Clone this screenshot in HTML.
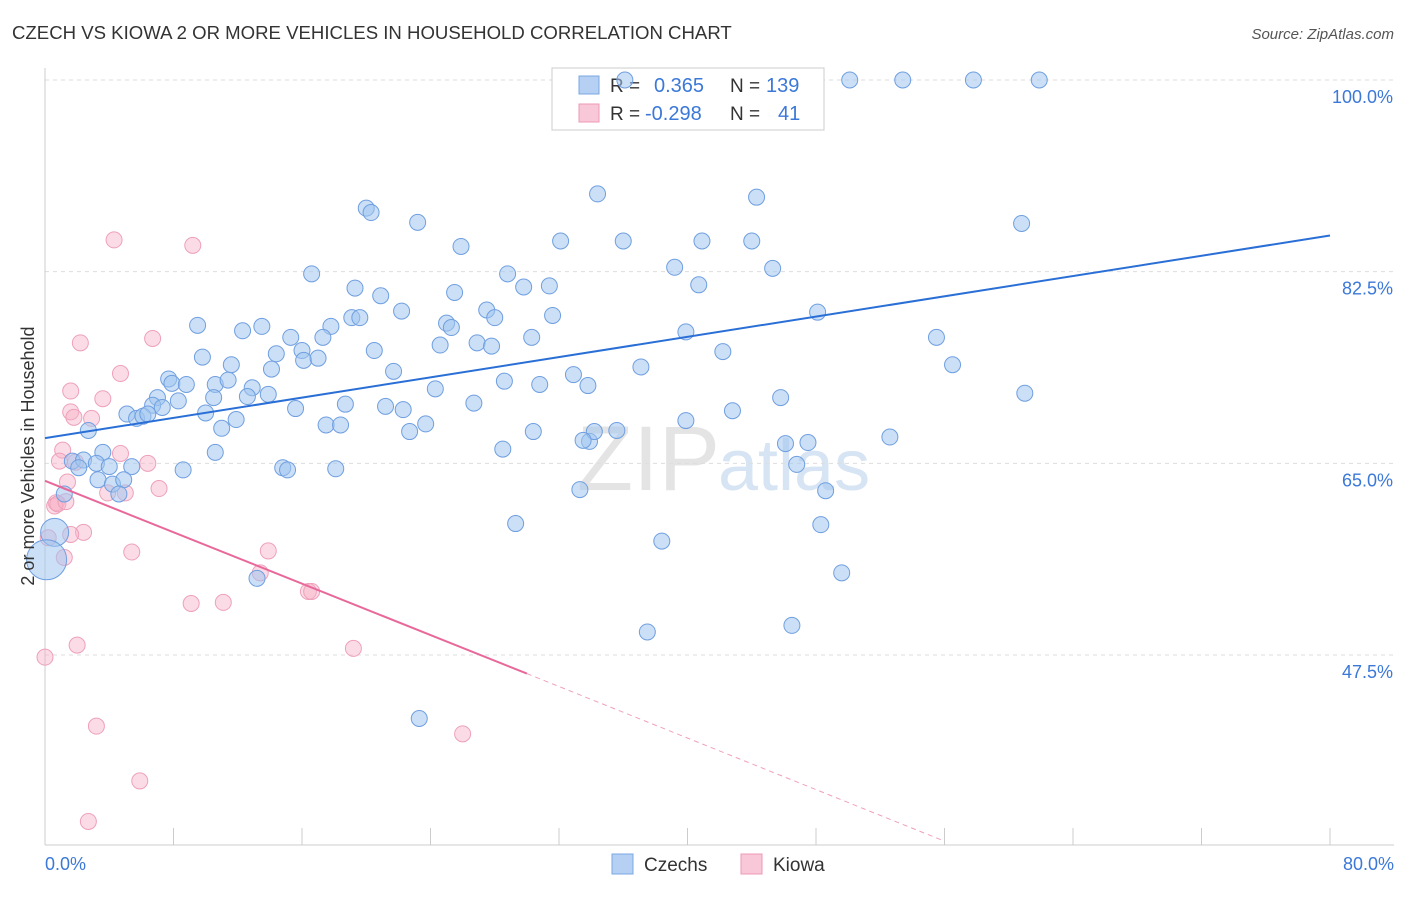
<!DOCTYPE html>
<html><head><meta charset="utf-8"><style>
body{margin:0;background:#fff;font-family:"Liberation Sans",sans-serif;}
svg text{font-family:"Liberation Sans",sans-serif;}
</style></head><body>
<svg id="chart" width="1406" height="892" xmlns="http://www.w3.org/2000/svg">
<text x="12" y="39" font-size="18.6" fill="#333">CZECH VS KIOWA 2 OR MORE VEHICLES IN HOUSEHOLD CORRELATION CHART</text>
<text x="1394" y="39" font-size="15" fill="#555" font-style="italic" text-anchor="end">Source: ZipAtlas.com</text>
<text x="720" y="490" font-size="92" fill="#e4e4e4" text-anchor="end" font-family="Liberation Serif">ZIP</text>
<text x="718" y="490" font-size="72" fill="#d6e4f4">atlas</text>
<g id="grid"></g>
<line x1="45" y1="68" x2="45" y2="845" stroke="#ccc"/>
<line x1="45" y1="845" x2="1394" y2="845" stroke="#ccc"/>
<g id="xticks"></g>
<g>
<rect x="552" y="68" width="272" height="62" fill="#fff" stroke="#ccc"/>
<rect x="579" y="76" width="20" height="18" fill="#b5d0f2" stroke="#7aa7e3"/>
<rect x="579" y="104" width="20" height="18" fill="#f9c8d8" stroke="#ee9ab5"/>
<text x="610" y="92" font-size="19" fill="#333">R =</text>
<text x="654" y="92" font-size="20" fill="#3b78d8">0.365</text>
<text x="730" y="92" font-size="19" fill="#333">N =</text>
<text x="766" y="92" font-size="20" fill="#3b78d8">139</text>
<text x="610" y="120" font-size="19" fill="#333">R =</text>
<text x="645" y="120" font-size="20" fill="#3b78d8">-0.298</text>
<text x="730" y="120" font-size="19" fill="#333">N =</text>
<text x="778" y="120" font-size="20" fill="#3b78d8">41</text>
</g>
<g id="points"></g>
<g id="trends"></g>
<text transform="translate(34,456) rotate(-90)" font-size="18" fill="#333" text-anchor="middle">2 or more Vehicles in Household</text>
<text x="45" y="870" font-size="18" fill="#3b78d8">0.0%</text>
<text x="1394" y="870" font-size="18" fill="#3b78d8" text-anchor="end">80.0%</text>
<g><rect x="612" y="854" width="21" height="20" fill="#b5d0f2" stroke="#7aa7e3"/><text x="644" y="871" font-size="19" fill="#333">Czechs</text></g>
<g><rect x="741" y="854" width="21" height="20" fill="#f9c8d8" stroke="#ee9ab5"/><text x="773" y="871" font-size="19" fill="#333">Kiowa</text></g>
</svg>
<script>
const yTicks=[100,82.5,65,47.5];
const yTickLabels=["100.0%","82.5%","65.0%","47.5%"];
const xTicks=[0,8,16,24,32,40,48,56,64,72,80];
const czechX=[36.1,50.1,53.4,57.8,61.9,34.4,44.3,20.0,20.3,23.2,60.8,25.9,32.1,36.0,40.9,44.0,39.2,45.3,16.6,28.8,19.3,20.9,25.5,29.8,31.4,40.7,22.2,27.5,19.1,19.6,28.0,31.6,48.1,9.5,12.3,13.5,17.8,25.0,25.3,15.3,17.3,39.9,55.5,20.5,24.6,26.9,27.8,30.3,14.4,16.0,16.1,17.0,9.8,11.6,42.2,37.1,56.5,14.1,21.7,7.7,7.9,8.8,10.6,11.4,12.9,32.9,33.8,28.6,30.8,24.3,7.0,6.7,8.3,10.5,12.6,13.9,45.8,61.0,7.3,5.1,5.7,6.1,6.4,10.0,11.9,15.6,18.7,21.2,22.3,26.7,42.8,11.0,2.7,17.5,18.4,22.7,23.7,30.4,33.9,34.2,35.6,39.9,52.6,33.5,46.1,47.5,10.6,3.6,1.7,2.4,3.2,2.1,4.0,5.4,8.6,14.8,15.1,18.1,28.5,46.8,1.2,3.3,4.2,4.9,4.6,33.3,48.6,29.3,48.3,38.4,49.6,13.2,37.5,46.5,23.3,0.6,0.1];
const czechY=[100,100,100,100,100,89.6,89.3,88.3,87.9,87.0,86.9,84.8,85.3,85.3,85.3,85.3,82.9,82.8,82.3,82.3,81.0,80.3,80.6,81.1,81.2,81.3,78.9,79.0,78.3,78.3,78.3,78.5,78.8,77.6,77.1,77.5,77.5,77.8,77.4,76.5,76.5,77.0,76.5,75.3,75.8,76.0,75.7,76.5,75.0,75.3,74.4,74.6,74.7,74.0,75.2,73.8,74.0,73.6,73.4,72.7,72.3,72.2,72.2,72.6,71.9,73.1,72.1,72.5,72.2,71.8,71.0,70.3,70.7,71.0,71.1,71.3,71.0,71.4,70.1,69.5,69.1,69.3,69.5,69.6,69.0,70.0,70.4,70.2,69.9,70.5,69.8,68.2,68.0,68.5,68.5,67.9,68.6,67.9,67.0,67.9,68.0,68.9,67.4,67.1,66.8,66.9,66.0,66.0,65.2,65.3,65.0,64.6,64.7,64.7,64.4,64.6,64.4,64.5,66.3,64.9,62.2,63.5,63.1,63.5,62.2,62.6,62.5,59.5,59.4,57.9,55.0,54.5,49.6,50.2,41.7,58.7,56.2];
const kiowaX=[4.3,9.2,2.2,6.7,4.7,1.6,3.6,1.6,2.9,1.8,1.1,0.9,1.9,6.4,4.7,1.4,5.0,3.9,7.1,0.7,0.6,2.4,1.6,0.2,1.2,5.4,13.9,13.4,16.4,16.6,9.1,11.1,2.0,19.2,0.0,3.2,26.0,5.9,2.7,0.8,1.3];
const kiowaY=[85.4,84.9,76.0,76.4,73.2,71.6,70.9,69.7,69.1,69.2,66.2,65.2,65.1,65.0,65.9,63.3,62.3,62.3,62.7,61.4,61.1,58.7,58.5,58.2,56.4,56.9,57.0,55.0,53.3,53.3,52.2,52.3,48.4,48.1,47.3,41.0,40.3,36.0,32.3,61.3,61.5];
const czechTrend=[[0,67.3],[80,85.8]];
const kiowaTrendSolid=[[0,63.4],[30,45.8]];
const kiowaTrendDash=[[30,45.8],[56,30.5]];
const NS="http://www.w3.org/2000/svg";
const sx=v=>45+v*(1285/80);
const sy=v=>80+(100-v)*10.952;
function mk(t,a,p){const e=document.createElementNS(NS,t);for(const k in a)e.setAttribute(k,a[k]);p.appendChild(e);return e;}
const grid=document.getElementById('grid');
yTicks.forEach((t,i)=>{
 const l=mk('line',{x1:45,x2:1394,y1:sy(t),y2:sy(t),stroke:'#ddd','stroke-dasharray':'4,4'},grid);
 
 
 const tx=mk('text',{x:1393,y:sy(t)+23,'font-size':18,fill:'#3b78d8','text-anchor':'end'},grid);
 tx.textContent=yTickLabels[i];
 
 
});
const xt=document.getElementById('xticks');
xTicks.forEach(t=>{
 const l=mk('line',{x1:sx(t),x2:sx(t),y1:828,y2:845,stroke:'#ccc'},xt);
 
 
});
const pts=document.getElementById('points');
kiowaX.forEach((x,i)=>{
 const c=mk('circle',{cx:sx(x),cy:sy(kiowaY[i]),r:8,fill:'rgba(246,178,200,0.45)',stroke:'#eea0ba','stroke-width':1},pts);
 
 
});
czechX.forEach((x,i)=>{
 const n=czechX.length;
 const r=i===n-1?20:(i===n-2?14:8);
 const c=mk('circle',{cx:sx(x),cy:sy(czechY[i]),r:r,fill:'rgba(160,196,238,0.55)',stroke:'#6f9fe0','stroke-width':1},pts);
 
 
});
const tr=document.getElementById('trends');
const a=mk('line',{x1:sx(czechTrend[0][0]),y1:sy(czechTrend[0][1]),x2:sx(czechTrend[1][0]),y2:sy(czechTrend[1][1]),stroke:'#2a6fd6','stroke-width':2},tr);


const b=mk('line',{x1:sx(kiowaTrendSolid[0][0]),y1:sy(kiowaTrendSolid[0][1]),x2:sx(kiowaTrendSolid[1][0]),y2:sy(kiowaTrendSolid[1][1]),stroke:'#e8689a','stroke-width':2},tr);


const d=mk('line',{x1:sx(kiowaTrendDash[0][0]),y1:sy(kiowaTrendDash[0][1]),x2:sx(kiowaTrendDash[1][0]),y2:sy(kiowaTrendDash[1][1]),stroke:'#f0a0bd','stroke-width':1,'stroke-dasharray':'5,4'},tr);


</script>
</body></html>
